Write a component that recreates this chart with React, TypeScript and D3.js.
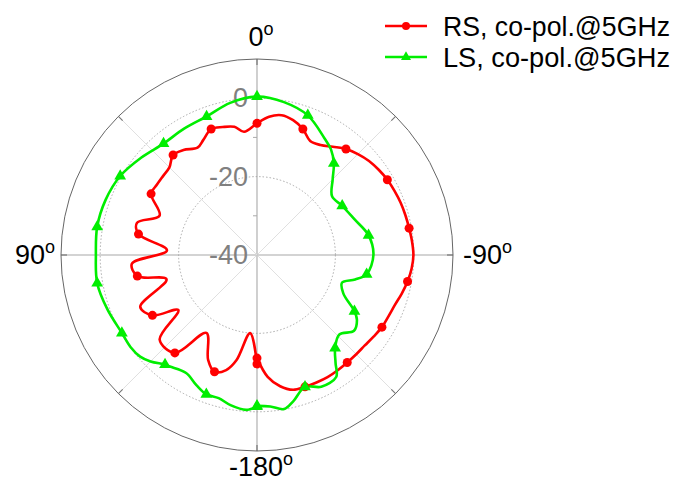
import React from 'react';
import * as d3 from 'd3';

// RS, co-pol.@5GHz (angle in deg, gain in dB)
const rsAngles = [-180, -175, -170, -165, -160, -155, -150, -145, -140, -135, -130, -125, -120, -115, -110, -105, -100, -95, -90, -85, -80, -75, -70, -65, -60, -55, -50, -45, -40, -35, -30, -25, -20, -15, -10, -5, 0, 6, 10, 15, 20, 25, 29, 35, 40, 45, 50, 55, 60, 68, 75, 80, 87, 94, 100, 105, 114, 120, 125, 131, 140, 147, 155, 160, 165, 169, 175, 180];
const rsValues = [-13.7, -8.8, -6.0, -4.4, -4.2, -4.1, -4.0, -4.1, -4.2, -4.2, -4.1, -3.7, -3.2, -3.0, -2.6, -1.8, -1.0, -0.4, -0.1, -0.3, -0.6, -0.8, -1.0, -1.3, -1.6, -2.1, -2.7, -3.6, -4.7, -6.3, -7.6, -7.9, -5.8, -4.4, -3.8, -4.6, -6.4, -8.4, -6.8, -6.2, -5.8, -7.6, -8.7, -7.3, -6.7, -8.4, -8.7, -8.8, -8.8, -13.2, -8.3, -9.3, -17.0, -8.0, -9.0, -16.1, -7.4, -9.2, -15.5, -7.1, -7.4, -16.3, -10.5, -8.3, -9.6, -12.7, -20.0, -12.2];

// LS, co-pol.@5GHz
const lsAngles = [-180, -175, -170, -166, -160, -154, -147, -144, -140, -134, -128, -123, -120, -114, -108, -104, -100, -90, -80, -70, -60, -52, -45, -40, -35, -30, -20, -10, 0, 10, 20, 30, 40, 50, 60, 70, 80, 90, 100, 110, 120, 126, 131, 135, 140, 142, 149, 155, 160, 165, 170, 176, 180];
const lsValues = [-1.5, -1.2, -0.1, -1.6, -4.2, -2.6, -2.9, -5.9, -9.0, -10.8, -8.6, -9.6, -11.3, -15.9, -17.2, -14.2, -11.6, -10.3, -11.1, -13.5, -14.9, -15.7, -12.7, -9.5, -7.1, -5.6, -2.1, -0.4, 0.4, -0.6, -2.4, -2.8, -2.9, -1.4, 0.3, 1.1, 1.4, 1.1, 1.4, 0.6, -0.2, -0.1, -0.5, -1.6, -3.5, -3.9, -4.9, -3.4, -2.2, -2.2, -1.1, -0.4, -1.3];

const radialTicks = [-40, -20, 0];
const minorTicks = [-30, -10];
const gridCircles = [-20, 0];
const angleLabels = [
  { angle: 0, text: '0' },
  { angle: 90, text: '90' },
  { angle: -90, text: '-90' },
  { angle: 180, text: '-180' },
];
const spokes = [0, 45, 90, 135, 180, 225, 270, 315];
const legendItems = ['RS, co-pol.@5GHz', 'LS, co-pol.@5GHz'];

const RED = '#ff0000';
const GREEN = '#00ee00';
const FONT = '"Liberation Sans", Arial, Helvetica, sans-serif';

const width = 682;
const height = 482;
const cx = 257;
const cy = 255;
const outerR = 196;

const rScale = d3.scaleLinear().domain([-40, 10]).range([0, outerR]);
const toRad = (deg: number) => (-deg * Math.PI) / 180;

type Pt = { a: number; v: number };
const zip = (as: number[], vs: number[]): Pt[] => as.map((a, i) => ({ a, v: vs[i] }));

const rsData = zip(rsAngles, rsValues);
const lsData = zip(lsAngles, lsValues);

const line = d3
  .lineRadial<Pt>()
  .angle(d => toRad(d.a))
  .radius(d => rScale(d.v))
  .curve(d3.curveCatmullRom.alpha(0.5));

const tri = d3.symbol().type(d3.symbolTriangle).size(60)();

const pos = (a: number, v: number) => d3.pointRadial(toRad(a), rScale(v));

const Marker = ({ kind, color }: { kind: 'circle' | 'tri'; color: string }) =>
  kind === 'circle' ? <circle r={4.5} fill={color} /> : <path d={tri || ''} fill={color} />;

// label nudges so each angle label sits where the reference has it
const labelPlace: Record<number, { anchor: 'middle' | 'start' | 'end'; dx: number; dy: number }> = {
  0: { anchor: 'middle', dx: 4, dy: 8 },
  90: { anchor: 'end', dx: 24, dy: 0 },
  [-90]: { anchor: 'start', dx: -20, dy: 0 },
  180: { anchor: 'middle', dx: 4, dy: -14 },
};

const App = () => {
  return (
    <svg width={width} height={height} style={{ position: 'absolute', left: 0, top: 0 }}>
      <rect width={width} height={height} fill="#fff" />
      <g transform={`translate(${cx},${cy})`}>
        {/* spokes */}
        {spokes.map(s => {
          const [x, y] = d3.pointRadial((s * Math.PI) / 180, outerR);
          const [tx, ty] = d3.pointRadial((s * Math.PI) / 180, outerR - 6);
          const main = s % 90 === 0;
          return (
            <g key={s}>
              <line x1={0} y1={0} x2={x} y2={y} stroke={main ? '#c4c4c4' : '#e0e0e0'} strokeWidth={main ? 1.6 : 1} />
              <line x1={tx} y1={ty} x2={x} y2={y} stroke="#777" strokeWidth={1.2} />
            </g>
          );
        })}
        {/* dotted grid circles */}
        {gridCircles.map(g => (
          <circle key={g} r={rScale(g)} fill="none" stroke="#a0a0a0" strokeWidth={0.9} strokeDasharray="1.5,2" />
        ))}
        <circle r={outerR} fill="none" stroke="#666" strokeWidth={1} />
        {/* minor radial ticks */}
        {minorTicks.map(t => (
          <line key={t} x1={-4} x2={0} y1={-rScale(t)} y2={-rScale(t)} stroke="#aaa" strokeWidth={1} />
        ))}
        {/* radial labels */}
        {radialTicks.map(t => (
          <text
            key={t}
            x={-9}
            y={-rScale(t)}
            textAnchor="end"
            dominantBaseline="central"
            fontFamily={FONT}
            fontSize={27}
            fill="#808080"
          >
            {t}
          </text>
        ))}
        {/* curves */}
        <path d={line(rsData) || ''} fill="none" stroke={RED} strokeWidth={2.6} />
        <path d={line(lsData) || ''} fill="none" stroke={GREEN} strokeWidth={2.6} />
        {rsData
          .filter(d => d.a % 20 === 0)
          .map(d => {
            const [x, y] = pos(d.a, d.v);
            return (
              <g key={'r' + d.a} transform={`translate(${x},${y})`}>
                <Marker kind="circle" color={RED} />
              </g>
            );
          })}
        {lsData
          .filter(d => d.a % 20 === 0)
          .map(d => {
            const [x, y] = pos(d.a, d.v);
            return (
              <g key={'l' + d.a} transform={`translate(${x},${y})`}>
                <Marker kind="tri" color={GREEN} />
              </g>
            );
          })}
        {/* angle labels */}
        {angleLabels.map(l => {
          const [x, y] = d3.pointRadial(toRad(l.angle), outerR + 30);
          const p = labelPlace[l.angle];
          return (
            <text
              key={l.angle}
              x={x + p.dx}
              y={y + p.dy}
              textAnchor={p.anchor}
              dominantBaseline="central"
              fontFamily={FONT}
              fontSize={27}
              fill="#000"
            >
              {l.text}
              <tspan fontSize={18} dy={-8}>o</tspan>
            </text>
          );
        })}
      </g>
      {/* legend */}
      <g fontFamily={FONT} fontSize={28}>
        {legendItems.map((name, i) => {
          const y = 26 + i * 31;
          const color = i === 0 ? RED : GREEN;
          return (
            <g key={name}>
              <line x1={385} x2={427} y1={y} y2={y} stroke={color} strokeWidth={2.6} />
              {i === 0 ? (
                <circle cx={406} cy={y} r={4} fill={color} />
              ) : (
                <path d={tri || ''} transform={`translate(406,${y}) scale(0.85)`} fill={color} />
              )}
              <text x={443} y={y + 10} fill="#000" textLength={227} lengthAdjust="spacingAndGlyphs">
                {name}
              </text>
            </g>
          );
        })}
      </g>
    </svg>
  );
};

export default App;
